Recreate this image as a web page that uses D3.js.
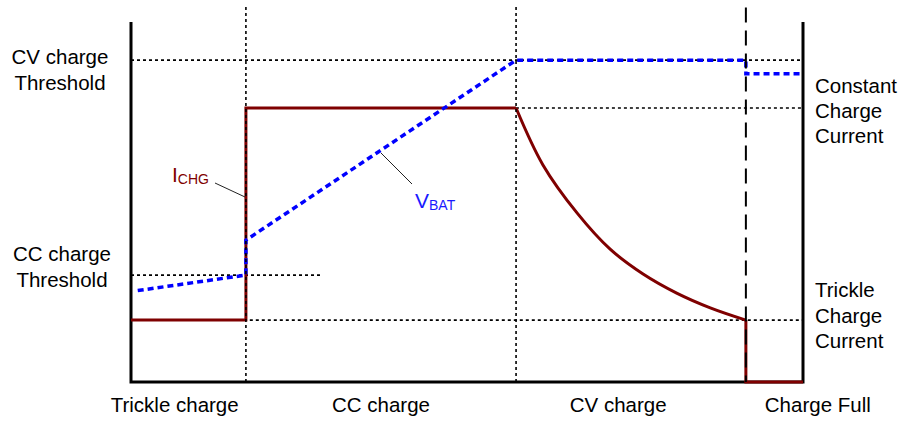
<!DOCTYPE html>
<html>
<head>
<meta charset="utf-8">
<script src="https://cdn.jsdelivr.net/npm/d3@7"></script>
<style>
  body { margin: 0; background: #fff; }
  text { font-family: "Liberation Sans", Arial, sans-serif; }
</style>
</head>
<body>
<div id="chart"></div>
<script>
// phases along the time axis (0..100)
var phaseNames = ["Trickle charge", "CC charge", "CV charge", "Charge Full"];
var phaseEdges = [0, 17.1, 57.3, 91.5, 100];
var phaseLabelX = [6.5, 37.2, 72.5, 102.2];

// levels (0..100)
var cvThreshold = 89.4;
var ccCurrent = 76.1;
var ccThreshold = 29.7;
var trickleCurrent = 17.2;

// battery voltage
var vbatT = [1, 17.1, 17.1, 57.3, 91.5, 91.5, 100];
var vbatV = [25.4, 29.7, 39.4, 89.4, 89.4, 85.6, 85.6];

// charge current: step part, CV decay, after full
var ichgStepT = [0, 17.1, 17.1, 57.3];
var ichgStepV = [17.2, 17.2, 76.1, 76.1];
var ichgDecayT = [57.3, 61.3, 66.4, 71.3, 76.2, 81.2, 86.2, 91.5];
var ichgDecayV = [76.1, 60.3, 46.9, 36.9, 30.0, 24.7, 20.6, 17.2];
var ichgFullT = [91.5, 91.5, 100];
var ichgFullV = [17.2, 0, 0];

var width = 906, height = 421;
var x = d3.scaleLinear().domain([0, 100]).range([131, 803]);
var y = d3.scaleLinear().domain([0, 100]).range([382, 22]);

var svg = d3.select("#chart").append("svg")
  .attr("width", width).attr("height", height);

function pts(t, v) { return t.map(function(d, i) { return [d, v[i]]; }); }
var line = d3.line().x(function(d) { return x(d[0]); }).y(function(d) { return y(d[1]); });
var smooth = d3.line().curve(d3.curveCatmullRom.alpha(0.5))
  .x(function(d) { return x(d[0]); }).y(function(d) { return y(d[1]); });

// horizontal guide lines
var hGuides = [
  {v: cvThreshold, a: 0, b: 100},
  {v: ccCurrent, a: 17.1, b: 100},
  {v: ccThreshold, a: 0, b: 28.2},
  {v: trickleCurrent, a: 15, b: 100}
];
svg.selectAll(".hguide").data(hGuides).enter().append("line")
  .attr("class", "hguide")
  .attr("x1", function(d) { return x(d.a); })
  .attr("x2", function(d) { return x(d.b); })
  .attr("y1", function(d) { return y(d.v); })
  .attr("y2", function(d) { return y(d.v); })
  .attr("stroke", "#000").attr("stroke-width", 1.6)
  .attr("stroke-dasharray", "3,3");

// frame
svg.append("path")
  .attr("d", line([[0, 100], [0, 0], [100, 0], [100, 100]]))
  .attr("fill", "none").attr("stroke", "#000").attr("stroke-width", 3);

// charge current
var red = "#7f0000";
svg.append("path").attr("d", line(pts(ichgStepT, ichgStepV)))
  .attr("fill", "none").attr("stroke", red).attr("stroke-width", 3);
svg.append("path").attr("d", smooth(pts(ichgDecayT, ichgDecayV)))
  .attr("fill", "none").attr("stroke", red).attr("stroke-width", 3);
svg.append("path").attr("d", line(pts(ichgFullT, ichgFullV)))
  .attr("fill", "none").attr("stroke", red).attr("stroke-width", 3);

// battery voltage
svg.append("path").attr("d", line(pts(vbatT, vbatV)))
  .attr("fill", "none").attr("stroke", "#0000ff").attr("stroke-width", 3.5)
  .attr("stroke-dasharray", "6,4");

// vertical phase separators
[phaseEdges[1], phaseEdges[2]].forEach(function(t) {
  svg.append("line")
    .attr("x1", x(t)).attr("x2", x(t)).attr("y1", y(104.2)).attr("y2", y(0))
    .attr("stroke", "#000").attr("stroke-width", 1.6).attr("stroke-dasharray", "3,3");
});
svg.append("line")
  .attr("x1", x(phaseEdges[3])).attr("x2", x(phaseEdges[3]))
  .attr("y1", y(104)).attr("y2", y(0))
  .attr("stroke", "#000").attr("stroke-width", 2).attr("stroke-dasharray", "15,8");

// bottom phase labels
svg.selectAll(".phase").data(phaseNames).enter().append("text")
  .attr("class", "phase")
  .attr("x", function(d, i) { return x(phaseLabelX[i]); })
  .attr("y", 412)
  .attr("text-anchor", "middle")
  .attr("font-size", 20.5)
  .text(function(d) { return d; });

// side labels
function block(lines, px, py, anchor, gap) {
  var t = svg.append("text").attr("font-size", 20.5).attr("text-anchor", anchor);
  lines.forEach(function(s, i) {
    t.append("tspan").attr("x", px).attr("y", py + i * gap).text(s);
  });
}
block(["CV charge", "Threshold"], 60, y(cvThreshold) + 4, "middle", 26);
block(["CC charge", "Threshold"], 62, y(ccThreshold) - 14, "middle", 26);
block(["Constant", "Charge", "Current"], 815, y(ccCurrent) - 15, "start", 25);
block(["Trickle", "Charge", "Current"], 815, y(trickleCurrent) - 23, "start", 25.5);

// series callouts
svg.append("line").attr("x1", 215).attr("y1", 183).attr("x2", 245).attr("y2", 197)
  .attr("stroke", "#222").attr("stroke-width", 1);
var ti = svg.append("text").attr("x", 172).attr("y", 182).attr("fill", red);
ti.append("tspan").attr("font-size", 21).text("I");
ti.append("tspan").attr("font-size", 14).attr("dy", 2).text("CHG");

svg.append("line").attr("x1", 381).attr("y1", 153).attr("x2", 412).attr("y2", 184)
  .attr("stroke", "#222").attr("stroke-width", 1);
var tv = svg.append("text").attr("x", 415).attr("y", 208).attr("fill", "#1a1aff");
tv.append("tspan").attr("font-size", 21).text("V");
tv.append("tspan").attr("font-size", 14).attr("dy", 2).text("BAT");
</script>
</body>
</html>
